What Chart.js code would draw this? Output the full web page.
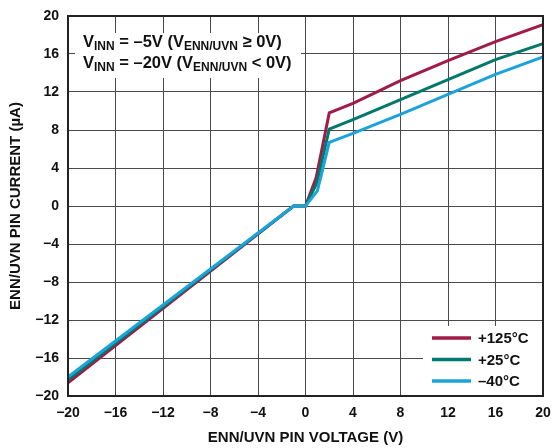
<!DOCTYPE html>
<html>
<head>
<meta charset="utf-8">
<script src="https://cdn.jsdelivr.net/npm/chart.js@4/dist/chart.umd.min.js"></script>
<style>
  html, body { margin: 0; padding: 0; background: #fff; }
  #wrap { width: 554px; height: 448px; position: relative; }
</style>
</head>
<body>
<div id="wrap"><canvas id="c" width="554" height="448"></canvas></div>
<script>
// ENN/UVN pin current vs voltage — three temperatures
const xTicks = [-20, -16, -12, -8, -4, 0, 4, 8, 12, 16, 20];
const yTicks = [-20, -16, -12, -8, -4, 0, 4, 8, 12, 16, 20];

const vHot = [-20, -1, 0, 0.9, 2, 4, 8, 12, 16, 20];
const iHot = [-18.6, 0, 0, 3.0, 9.8, 10.8, 13.2, 15.3, 17.3, 19.1];
const vRoom = [-20, -1, 0, 0.95, 2, 4, 8, 12, 16, 20];
const iRoom = [-18.3, 0, 0, 2.4, 8.1, 9.1, 11.2, 13.3, 15.4, 17.1];
const vCold = [-20, -1, 0, 1.0, 2, 4, 8, 12, 16, 20];
const iCold = [-18.0, 0, 0, 1.6, 6.7, 7.65, 9.65, 11.75, 13.85, 15.7];

const seriesNames = ['+125°C', '+25°C', '\u201340°C'];
const seriesColors = ['#a11b47', '#00786b', '#1ba3da'];

const FONT = "'Liberation Sans', Arial, sans-serif";
const pts = (xs, ys) => xs.map((x, i) => ({ x, y: ys[i] }));
const minus = (v) => (v < 0 ? '\u2212' + Math.abs(v) : String(v));

// white boxes, annotation text, legend and frame
const decor = {
  id: 'decor',
  beforeDatasetsDraw(chart) {
    const { ctx, chartArea: a } = chart;
    ctx.save();
    ctx.fillStyle = '#fff';
    ctx.fillRect(75, 33, 226, 45);       // annotation box
    ctx.fillRect(423, 326, a.right - 423, a.bottom - 326);   // legend box
    ctx.restore();
  },
  afterDraw(chart) {
    const { ctx, chartArea: a } = chart;
    ctx.save();
    ctx.fillStyle = '#111';
    ctx.textBaseline = 'alphabetic';
    // V_INN lines with subscripts
    const line = (parts, x, y) => {
      parts.forEach(([t, sub]) => {
        ctx.font = sub ? `bold 12px ${FONT}` : `bold 16.5px ${FONT}`;
        ctx.fillText(t, x, sub ? y + 3 : y);
        x += ctx.measureText(t).width;
      });
    };
    line([['V'], ['INN', 1], [' = \u20135V ('], ['V'], ['ENN/UVN', 1], [' \u2265 0V)']], 83, 47);
    line([['V'], ['INN', 1], [' = \u201320V ('], ['V'], ['ENN/UVN', 1], [' < 0V)']], 83, 68);

    // legend
    ctx.font = `bold 15px ${FONT}`;
    ctx.textBaseline = 'middle';
    seriesNames.forEach((n, i) => {
      const y = 338 + i * 21.5;
      ctx.strokeStyle = seriesColors[i];
      ctx.lineWidth = 3.5;
      ctx.beginPath(); ctx.moveTo(432, y); ctx.lineTo(471, y); ctx.stroke();
      ctx.fillStyle = '#111';
      ctx.fillText(n, 478, y + 1);
    });

    // frame
    ctx.strokeStyle = '#222';
    ctx.lineWidth = 2;
    ctx.strokeRect(a.left, a.top, a.right - a.left, a.bottom - a.top);
    ctx.restore();
  },
};

new Chart(document.getElementById('c'), {
  type: 'line',
  data: {
    datasets: [
      { label: seriesNames[0], data: pts(vHot, iHot), borderColor: seriesColors[0], order: 2 },
      { label: seriesNames[1], data: pts(vRoom, iRoom), borderColor: seriesColors[1], order: 1 },
      { label: seriesNames[2], data: pts(vCold, iCold), borderColor: seriesColors[2], order: 0 },
    ].map((d) => Object.assign(d, { borderWidth: 3, pointRadius: 0, tension: 0, fill: false, borderJoinStyle: 'miter' })),
  },
  options: {
    responsive: false,
    animation: false,
    layout: { padding: { top: 16, right: 11, left: 0, bottom: 0 } },
    plugins: { legend: { display: false }, tooltip: { enabled: false } },
    scales: {
      x: {
        type: 'linear', min: -20, max: 20,
        afterBuildTicks: (s) => { s.ticks = xTicks.map((v) => ({ value: v })); },
        afterFit: (s) => { s.height = 52; s.paddingLeft = 0; s.paddingRight = 0; },
        grid: { color: '#4a4a4a', lineWidth: 1, drawTicks: false },
        border: { display: false },
        ticks: { color: '#111', padding: 9, font: { family: FONT, size: 14, weight: 'bold' }, callback: minus, maxRotation: 0 },
        title: { display: true, text: 'ENN/UVN PIN VOLTAGE (V)', color: '#111', font: { family: FONT, size: 15, weight: 'bold' }, padding: { top: 0, bottom: 1 } },
      },
      y: {
        type: 'linear', min: -20, max: 20,
        afterBuildTicks: (s) => { s.ticks = yTicks.map((v) => ({ value: v })); },
        afterFit: (s) => { s.width = 68; s.paddingTop = 0; s.paddingBottom = 0; },
        grid: { color: '#4a4a4a', lineWidth: 1, drawTicks: false },
        border: { display: false },
        ticks: { color: '#111', padding: 9, font: { family: FONT, size: 14, weight: 'bold' }, callback: minus },
        title: { display: true, text: 'ENN/UVN PIN CURRENT (\u00b5A)', color: '#111', font: { family: FONT, size: 15, weight: 'bold' }, padding: { top: 7, bottom: 0 } },
      },
    },
  },
  plugins: [decor],
});
</script>
</body>
</html>
